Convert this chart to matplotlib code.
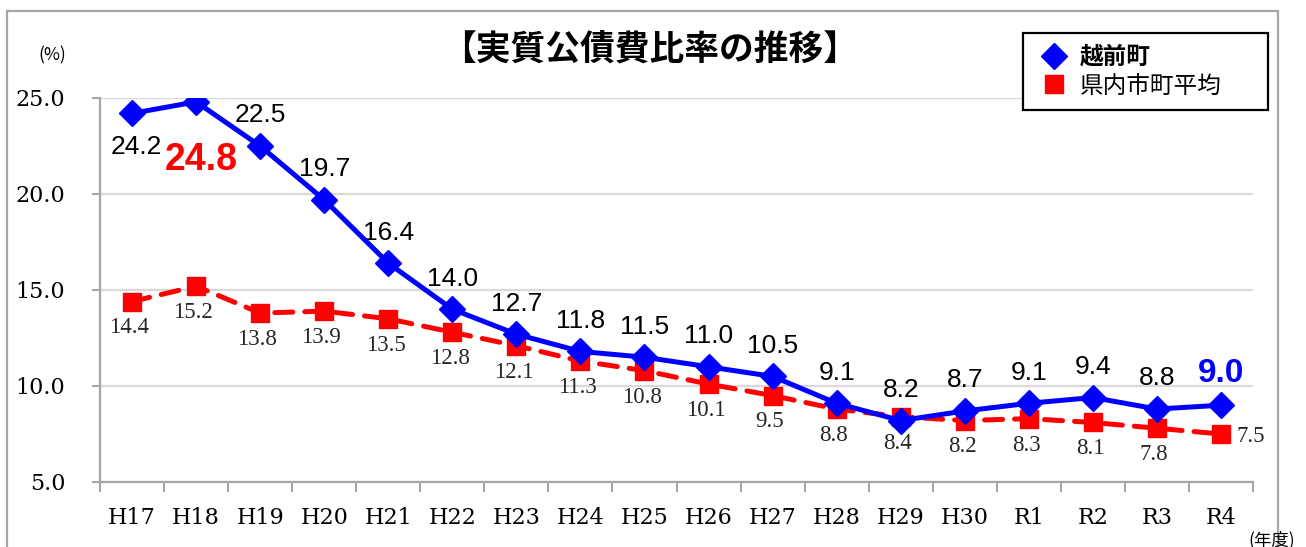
import matplotlib.pyplot as plt
from matplotlib.lines import Line2D
from matplotlib.patches import Rectangle

# data
years = ["H17", "H18", "H19", "H20", "H21", "H22", "H23", "H24", "H25",
         "H26", "H27", "H28", "H29", "H30", "R1", "R2", "R3", "R4"]
echizen = [24.2, 24.8, 22.5, 19.7, 16.4, 14.0, 12.7, 11.8, 11.5,
           11.0, 10.5, 9.1, 8.2, 8.7, 9.1, 9.4, 8.8, 9.0]
pref_avg = [14.4, 15.2, 13.8, 13.9, 13.5, 12.8, 12.1, 11.3, 10.8,
            10.1, 9.5, 8.8, 8.4, 8.2, 8.3, 8.1, 7.8, 7.5]
yticks = [5.0, 10.0, 15.0, 20.0, 25.0]

jp = ["Noto Sans CJK JP", "DejaVu Sans"]
narrow = ["Liberation Sans Narrow", "Liberation Sans", "DejaVu Sans"]
serif_lbl = ["Liberation Serif", "DejaVu Serif"]

fig = plt.figure(figsize=(13.06, 5.47), dpi=100)
ax = fig.add_axes([100 / 1306, 1 - 482 / 547, 1153 / 1306, 384 / 547])

x = list(range(len(years)))
ax.plot(x, pref_avg, color="#FF0000", lw=3.6, ls=(0, (3.6, 2.4)),
        dash_capstyle="round", marker="s", ms=13, zorder=3)
ax.plot(x, echizen, color="#0000FF", lw=3.6, marker="D", ms=13, zorder=4)

ax.set_xlim(-0.5, len(years) - 0.5)
ax.set_ylim(5, 25)
ax.set_yticks(yticks)
ax.set_yticklabels([f"{v:.1f}" for v in yticks], family="DejaVu Serif", fontsize=16)
ax.set_xticks(x)
ax.set_xticklabels(years, family="DejaVu Serif", fontsize=16)
ax.set_xticks([i - 0.5 for i in range(len(years) + 1)], minor=True)
ax.tick_params(axis="x", which="major", length=0, pad=18)
ax.tick_params(axis="x", which="minor", length=7, width=1.5, color="#A6A6A6", direction="out")
ax.tick_params(axis="y", length=6, width=1.5, color="#A6A6A6", pad=19)
ax.grid(axis="y", color="#D9D9D9", lw=1.6)
ax.set_axisbelow(True)
for s in ["top", "right"]:
    ax.spines[s].set_visible(False)
for s in ["left", "bottom"]:
    ax.spines[s].set_color("#A6A6A6")
    ax.spines[s].set_linewidth(1.6)

# data labels
for i, v in enumerate(echizen):
    txt = f"{v:.1f}"
    if i == 1:
        ax.annotate(txt, (i, v), xytext=(4, -42), textcoords="offset points",
                    ha="center", va="center", color="#FF0000", fontsize=27,
                    fontweight="bold", family=narrow)
    elif i == len(echizen) - 1:
        ax.annotate(txt, (i, v), xytext=(0, 23), textcoords="offset points",
                    ha="center", va="center", color="#0000FF", fontsize=24,
                    fontweight="bold", family=narrow)
    elif i == 0:
        ax.annotate(txt, (i, v), xytext=(3, -24), textcoords="offset points",
                    ha="center", va="center", color="black", fontsize=19, family=narrow)
    else:
        ax.annotate(txt, (i, v), xytext=(0, 22), textcoords="offset points",
                    ha="center", va="center", color="black", fontsize=19, family=narrow)

for i, v in enumerate(pref_avg):
    txt = f"{v:.1f}"
    if i == len(pref_avg) - 1:
        ax.annotate(txt, (i, v), xytext=(11, -2), textcoords="offset points",
                    ha="left", va="center", color="#262626", fontsize=16.5, family=serif_lbl)
    else:
        ax.annotate(txt, (i, v), xytext=(-2, -19), textcoords="offset points",
                    ha="center", va="center", color="#262626", fontsize=16.5, family=serif_lbl)

fig.text(650 / 1306, 1 - 50 / 547, "【実質公債費比率の推移】", ha="center", va="center",
         fontsize=25, fontweight="bold", family=jp)
fig.text(52 / 1306, 1 - 55 / 547, "(%)", ha="center", va="center", fontsize=12.5, family=jp)
fig.text(1272 / 1306, 1 - 540 / 547, "(年度)", ha="center", va="center", fontsize=12.5, family=jp)

# outer frame
fig.patches.append(Rectangle((7 / 1306, -0.05), 1271 / 1306, 1.05 - 11 / 547,
                             transform=fig.transFigure, fill=False,
                             edgecolor="#A6A6A6", lw=1.6))

handles = [Line2D([], [], ls="none", marker="D", ms=13, color="#0000FF"),
           Line2D([], [], ls="none", marker="s", ms=13, color="#FF0000")]
leg = fig.legend(handles, ["越前町", "県内市町平均"], loc="upper left",
                 bbox_to_anchor=(1023 / 1306, 1 - 122 / 547, 245 / 1306, 89 / 547),
                 mode="expand", borderaxespad=0, prop={"family": jp, "size": 17},
                 fancybox=False, framealpha=1, edgecolor="black", borderpad=0.5,
                 labelspacing=0.25, handlelength=1.6, handletextpad=0.3)
leg.get_frame().set_linewidth(1.6)
leg.get_texts()[0].set_fontweight("bold")

fig.savefig("out.png", dpi=100)
